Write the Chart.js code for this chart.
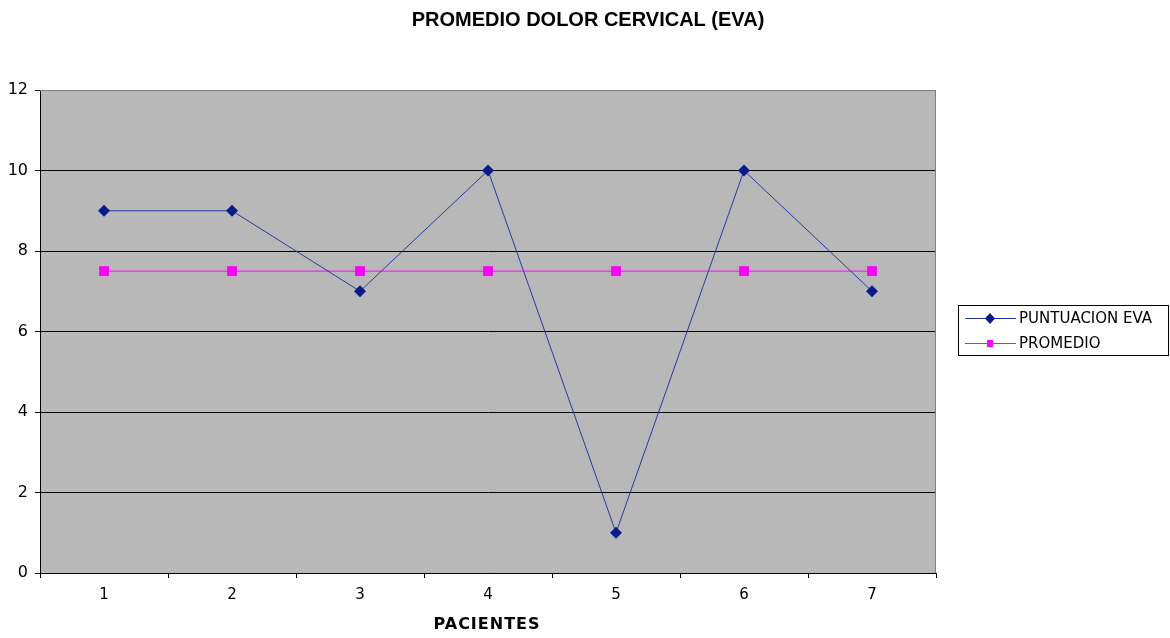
<!DOCTYPE html>
<html>
<head>
<meta charset="utf-8">
<script src="https://cdn.jsdelivr.net/npm/chart.js@4/dist/chart.umd.min.js"></script>
<style>
  html, body { margin: 0; padding: 0; background: #fff; }
  #wrap { width: 1170px; height: 638px; }
</style>
</head>
<body>
<div id="wrap"><canvas id="grafica"></canvas></div>
<script>
const titulo = 'PROMEDIO DOLOR CERVICAL (EVA)';
const tituloEjeX = 'PACIENTES';
const pacientes = ['1', '2', '3', '4', '5', '6', '7'];
const puntuacionEva = [9, 9, 7, 10, 1, 10, 7];
const promedio = [7.5, 7.5, 7.5, 7.5, 7.5, 7.5, 7.5];
const ticksY = [0, 2, 4, 6, 8, 10, 12];

const lineaEva = '#2a3a9e';
const puntoEva = '#0a1a8c';
const colorProm = '#ff00ff';

// fondo gris del area de trazado + textos y leyenda dibujados a mano
const extras = {
  id: 'extras',
  beforeDraw(chart) {
    const { ctx, chartArea: a } = chart;
    ctx.save();
    ctx.fillStyle = '#b8b8b8';
    ctx.fillRect(a.left, a.top, a.right - a.left, a.bottom - a.top);
    ctx.restore();
  },
  beforeDatasetsDraw(chart) {
    const { ctx, chartArea: a } = chart;
    ctx.save();
    ctx.strokeStyle = '#808080';
    ctx.lineWidth = 1;
    ctx.beginPath();
    ctx.moveTo(a.left, a.top + 0.5);
    ctx.lineTo(a.right - 0.5, a.top + 0.5);
    ctx.lineTo(a.right - 0.5, a.bottom);
    ctx.stroke();
    ctx.restore();
  },
  afterDraw(chart) {
    const { ctx, chartArea: a } = chart;
    ctx.save();
    ctx.fillStyle = '#000';
    ctx.textAlign = 'center';
    ctx.textBaseline = 'middle';
    ctx.font = 'bold 20px "Liberation Sans", Arial, sans-serif';
    ctx.fillText(titulo, 588, 20);

    ctx.font = 'bold 16px "DejaVu Sans", sans-serif';
    ctx.letterSpacing = '1px';
    ctx.fillText(tituloEjeX, (a.left + a.right) / 2 - 1, 625);
    ctx.letterSpacing = '0px';

    // leyenda
    ctx.strokeStyle = '#000';
    ctx.lineWidth = 1;
    ctx.strokeRect(958.5, 305.5, 210, 50);
    const filas = [318, 343];
    chart.data.datasets.forEach((ds, i) => {
      const y = filas[i];
      ctx.strokeStyle = ds.borderColor;
      ctx.beginPath();
      ctx.moveTo(965, y + 0.5);
      ctx.lineTo(1016, y + 0.5);
      ctx.stroke();
      ctx.fillStyle = ds.pointBackgroundColor;
      if (ds.pointStyle === 'rectRot') {
        ctx.beginPath();
        ctx.moveTo(990, y - 5);
        ctx.lineTo(995, y + 0.5);
        ctx.lineTo(990, y + 6);
        ctx.lineTo(985, y + 0.5);
        ctx.closePath();
        ctx.fill();
      } else {
        ctx.fillRect(987, y - 3, 6, 7);
      }
      ctx.fillStyle = '#000';
      ctx.textAlign = 'left';
      ctx.font = '15px "DejaVu Sans", sans-serif';
      ctx.fillText(ds.label, 1019, y + 1);
    });
    ctx.restore();
  }
};

new Chart(document.getElementById('grafica'), {
  type: 'line',
  data: {
    labels: pacientes,
    datasets: [
      {
        label: 'PUNTUACION EVA',
        data: puntuacionEva,
        borderColor: lineaEva,
        backgroundColor: puntoEva,
        pointBackgroundColor: puntoEva,
        pointBorderColor: puntoEva,
        borderWidth: 1,
        pointStyle: 'rectRot',
        pointRadius: 6,
        pointBorderWidth: 0,
        tension: 0
      },
      {
        label: 'PROMEDIO',
        data: promedio,
        borderColor: colorProm,
        backgroundColor: colorProm,
        pointBackgroundColor: colorProm,
        pointBorderColor: colorProm,
        borderWidth: 1,
        pointStyle: 'rect',
        pointRadius: 7,
        pointBorderWidth: 0,
        tension: 0
      }
    ]
  },
  options: {
    responsive: true,
    maintainAspectRatio: false,
    animation: false,
    layout: { padding: { top: 90, right: 234, left: 0, bottom: 0 } },
    plugins: {
      legend: { display: false },
      title: { display: false },
      tooltip: { enabled: false }
    },
    scales: {
      x: {
        offset: true,
        grid: {
          offset: true,
          drawOnChartArea: false,
          color: '#000',
          tickLength: 5
        },
        border: { color: '#000', width: 1 },
        ticks: {
          color: '#000',
          padding: 8,
          font: { family: '"DejaVu Sans", sans-serif', size: 15 }
        },
        afterFit(scale) { scale.height = 65; }
      },
      y: {
        min: 0,
        max: 12,
        afterBuildTicks(scale) { scale.ticks = ticksY.map(v => ({ value: v })); },
        grid: {
          color: ctx => (ctx.tick && ctx.tick.value === 12 ? '#808080' : '#000'),
          tickColor: '#000',
          tickLength: 5
        },
        border: { color: '#000', width: 1 },
        ticks: {
          color: '#000',
          padding: 7,
          font: { family: '"DejaVu Sans", sans-serif', size: 16 }
        },
        afterFit(scale) { scale.width = 40; }
      }
    }
  },
  plugins: [extras]
});
</script>
</body>
</html>
